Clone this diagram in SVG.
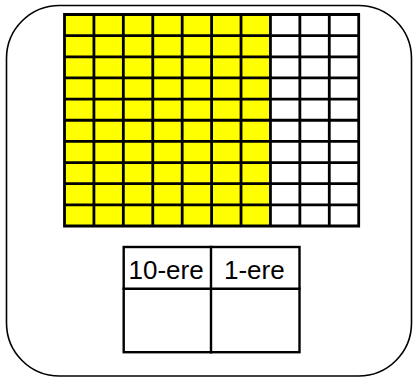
<svg xmlns="http://www.w3.org/2000/svg" width="413" height="378" viewBox="0 0 413 378">
<style>
.frame{fill:#fff;stroke:#000;stroke-width:1.6}
.grid{fill:none;stroke:#000;stroke-width:2.8;stroke-linecap:square}
.tbl{fill:none;stroke:#000;stroke-width:2.4;stroke-linecap:square}
.lbl{font-family:"Liberation Sans",Arial,sans-serif;font-size:26px;fill:#000}
</style>
<rect width="413" height="378" fill="#fff"/>
<rect id="frame" class="frame" x="6.5" y="5.5" width="405" height="370.5" rx="53" ry="53"/>
<g id="hundred-grid">
<rect x="64.5" y="14.5" width="205.94" height="211.5" fill="#ffff00"/>
<path class="grid" d="M64.5 14.5V226M93.92 14.5V226M123.34 14.5V226M152.76 14.5V226M182.18 14.5V226M211.6 14.5V226M241.02 14.5V226M270.44 14.5V226M299.86 14.5V226M329.28 14.5V226M358.7 14.5V226M64.5 14.5H358.7M64.5 35.65H358.7M64.5 56.8H358.7M64.5 77.95H358.7M64.5 99.1H358.7M64.5 120.25H358.7M64.5 141.4H358.7M64.5 162.55H358.7M64.5 183.7H358.7M64.5 204.85H358.7M64.5 226H358.7"/>
</g>
<g id="place-value-table">
<rect class="tbl" x="123.7" y="247" width="175.8" height="105.2"/>
<path class="tbl" d="M211 247V352.2M123.7 288.8H299.5"/>
<text class="lbl" x="128.5" y="279">10-ere</text>
<text class="lbl" x="224" y="279">1-ere</text>
</g>
</svg>
